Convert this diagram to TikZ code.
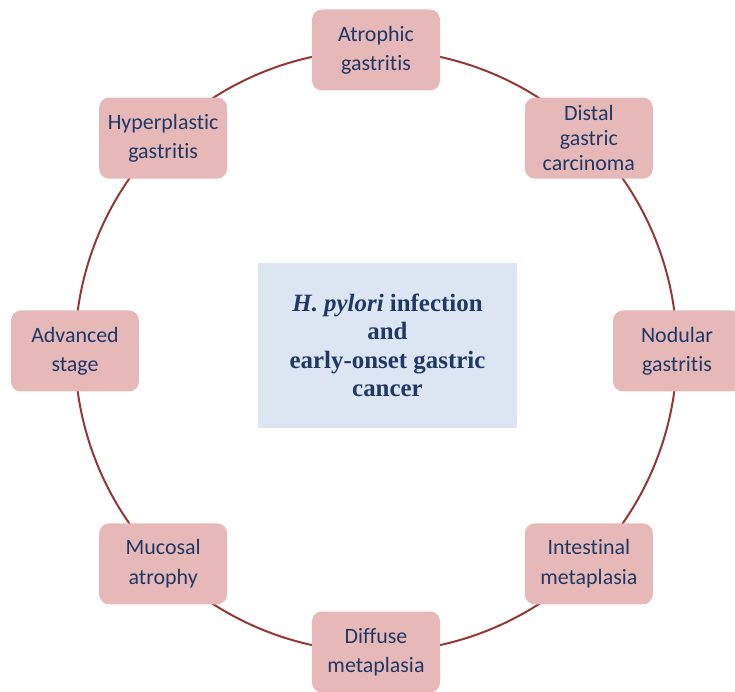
\documentclass[tikz,border=0pt]{standalone}
\usepackage{fontspec}
\newfontfamily\calibrifont[Ligatures=NoCommon]{Carlito}
\newfontfamily\timesfont{Liberation Serif}
\usepackage{tikz}
\usetikzlibrary{positioning,backgrounds}
\usepackage{xcolor}
\definecolor{boxpink}{HTML}{E6B9B8}
\definecolor{textblue}{HTML}{1F3864}
\definecolor{centerblue}{HTML}{DCE6F2}
\definecolor{ringred}{HTML}{953735}

\begin{document}
\begin{tikzpicture}[x=1bp,y=1bp,
  stage/.style={rectangle,rounded corners=10bp,fill=boxpink,text=textblue,
    minimum width=128bp,minimum height=81bp,align=center,
    font=\calibrifont\fontsize{22}{29.5}\selectfont},
  ring/.style={draw=ringred,line width=2bp,bend left=22.5,looseness=0.885}]
\useasboundingbox (-376,-341) rectangle (359,351);
\node[rectangle,fill=centerblue,text=textblue,minimum width=259bp,minimum height=165bp,align=center,
  font=\timesfont\bfseries\fontsize{25}{28.5}\selectfont] (hpylori) at (11.5,5.5)
  {\textit{H. pylori} infection\\and\\early-onset gastric\\cancer};
\node[stage] (atrophic) at (90:301) {Atrophic\\gastritis};
\node[stage,font=\calibrifont\fontsize{22}{25}\selectfont] (distal) at (45:301) {Distal\\gastric\\carcinoma};
\node[stage] (nodular) at (0:301) {Nodular\\gastritis};
\node[stage] (intestinal) at (-45:301) {Intestinal\\metaplasia};
\node[stage] (diffuse) at (-90:301) {Diffuse\\metaplasia};
\node[stage] (mucosal) at (-135:301) {Mucosal\\atrophy};
\node[stage] (advanced) at (180:301) {Advanced\\stage};
\node[stage] (hyperplastic) at (135:301) {Hyperplastic\\gastritis};
\begin{pgfonlayer}{background}
\draw[ring] (atrophic.center) to (distal.center);
\draw[ring] (distal.center) to (nodular.center);
\draw[ring] (nodular.center) to (intestinal.center);
\draw[ring] (intestinal.center) to (diffuse.center);
\draw[ring] (diffuse.center) to (mucosal.center);
\draw[ring] (mucosal.center) to (advanced.center);
\draw[ring] (advanced.center) to (hyperplastic.center);
\draw[ring] (hyperplastic.center) to (atrophic.center);
\end{pgfonlayer}
\end{tikzpicture}
\end{document}
